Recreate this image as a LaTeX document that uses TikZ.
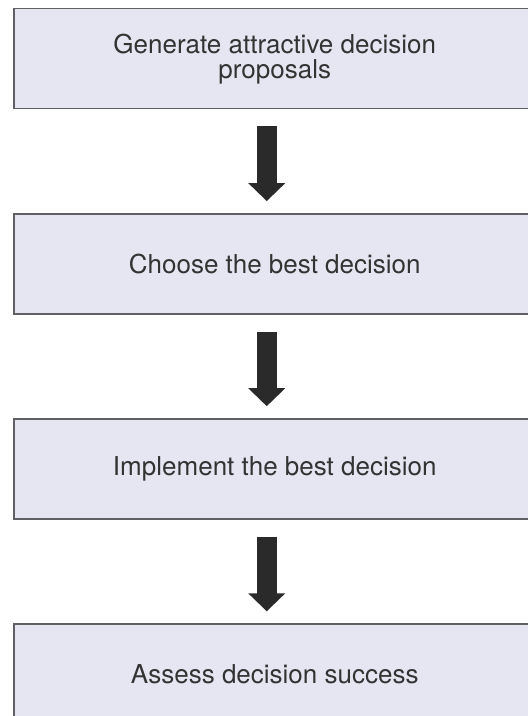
\documentclass[tikz,border=0pt]{standalone}
\usepackage{fontspec}
\setmainfont{TeX Gyre Heros}
\usetikzlibrary{positioning,arrows.meta}
\definecolor{boxfill}{RGB}{230,230,242}
\definecolor{boxline}{RGB}{95,95,100}
\definecolor{arrowfill}{RGB}{42,42,42}
\tikzset{
  stepbox/.style={draw=boxline, line width=0.75pt, fill=boxfill,
    minimum width=261pt, minimum height=50pt, inner sep=0pt,
    align=center, font=\fontsize{13}{12.5}\selectfont, text=black!80},
  bigarrow/.style={-{Triangle[width=18pt,length=9pt]}, line width=10pt,
    draw=arrowfill, shorten <=8.5pt, shorten >=6pt},
}
\begin{document}
\begin{tikzpicture}[node distance=51.8pt]
\useasboundingbox (0,0) rectangle (264pt,-358pt);
\clip (0,0) rectangle (264pt,-358pt);

\node[stepbox, anchor=north west] (gen) at (6.5pt,-4pt) {Generate attractive decision\\proposals};
\node[stepbox, below=of gen] (choose) {Choose the best decision};
\node[stepbox, below=of choose] (impl) {Implement the best decision};
\node[stepbox, below=of impl] (assess) {Assess decision success};

\foreach \a/\b in {gen/choose, choose/impl, impl/assess}
  \draw[bigarrow] ([xshift=-4pt]\a.south) -- ([xshift=-4pt]\b.north);

\end{tikzpicture}
\end{document}
